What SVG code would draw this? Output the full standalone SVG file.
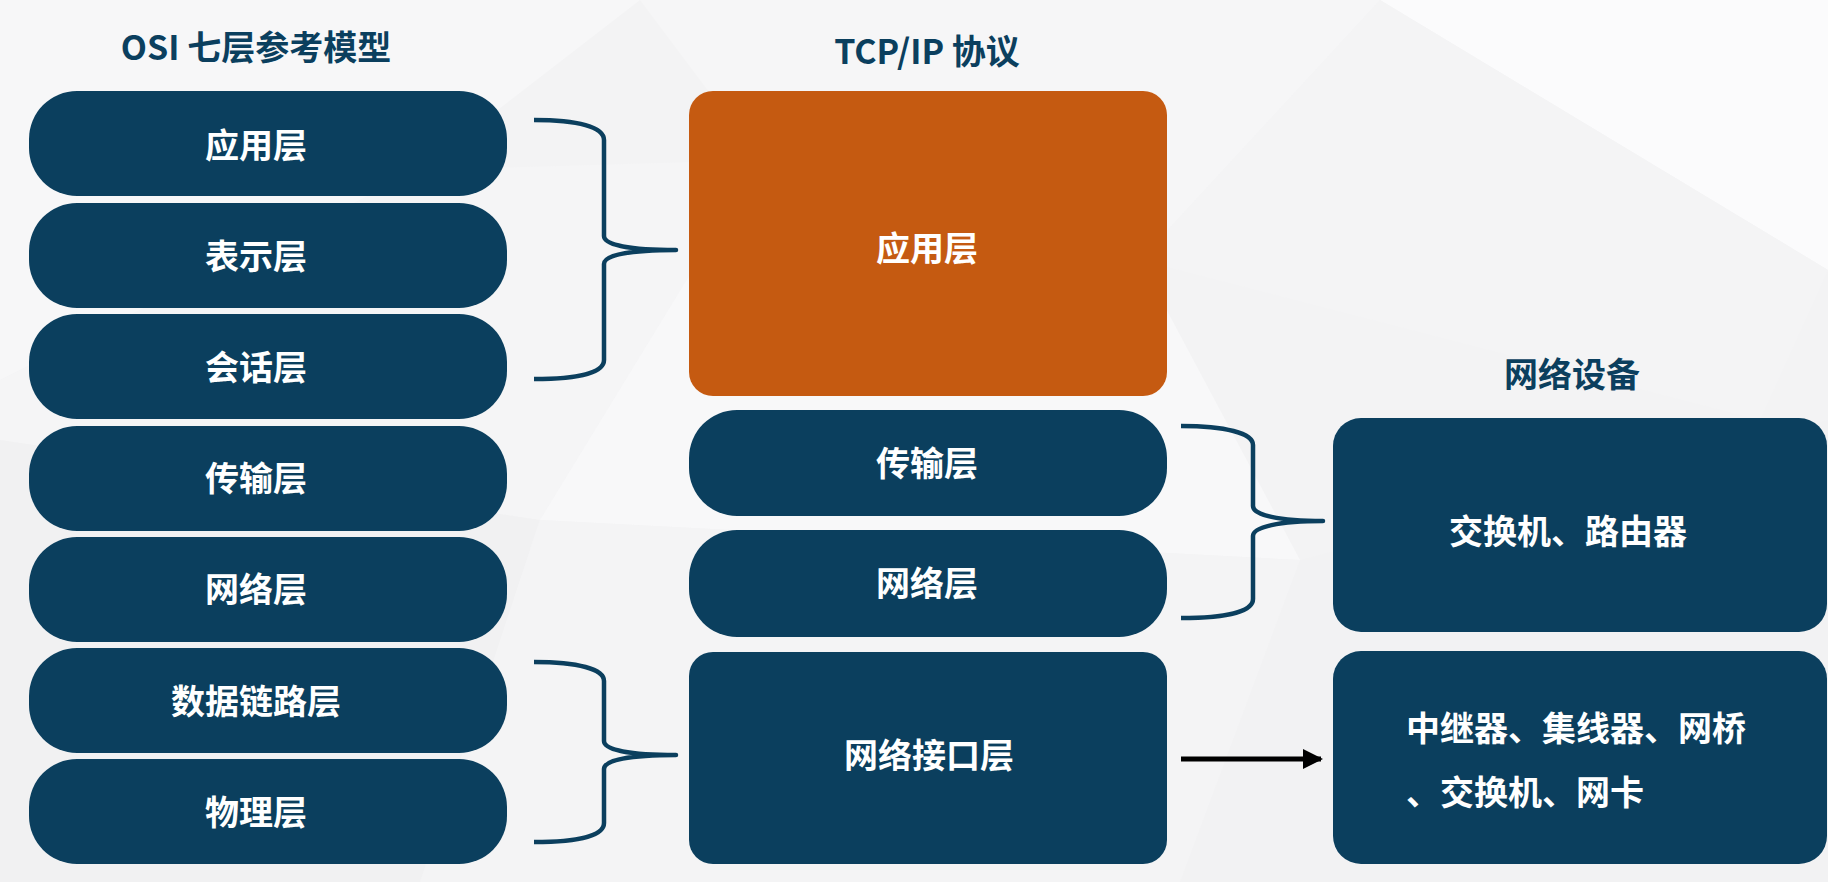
<svg xmlns="http://www.w3.org/2000/svg" width="1828" height="882" viewBox="0 0 1828 882">
<defs>
<style>
.box{fill:#0b3f5e}
.org{fill:#c55a11}
.lbl{font-family:"Noto Sans CJK SC","Noto Sans",sans-serif;font-weight:bold;font-size:34px;fill:#ffffff;text-anchor:middle;dominant-baseline:central}
.lbl2{font-family:"Noto Sans CJK SC","Noto Sans",sans-serif;font-weight:bold;font-size:34px;fill:#ffffff}
.ttl{font-family:"Noto Sans CJK SC","Noto Sans",sans-serif;font-weight:bold;font-size:34px;fill:#0b3f5e;text-anchor:middle;dominant-baseline:central}
.brace{fill:none;stroke:#0b3f5e;stroke-width:4.5;stroke-linecap:butt;stroke-linejoin:round}
</style>
<marker id="arr" viewBox="0 0 10 10" refX="9" refY="5" markerWidth="4" markerHeight="4" orient="auto" markerUnits="strokeWidth">
<path d="M0,0 L10,5 L0,10 Z" fill="#000000"/>
</marker>
</defs>
<g id="background">
<rect x="0" y="0" width="1828" height="882" fill="#f3f3f4"/>
<polygon points="0,0 640,0 420,170 0,380" fill="#f7f7f8"/>
<polygon points="640,0 1380,0 1140,260 760,160" fill="#f6f6f7"/>
<polygon points="1380,0 1828,0 1828,270" fill="#fbfbfc"/>
<polygon points="1380,0 1828,270 1760,420 1140,260" fill="#f4f4f5"/>
<polygon points="0,380 420,170 760,160 540,520 0,440" fill="#f5f5f6"/>
<polygon points="760,160 1140,260 1300,560 540,520" fill="#f8f8f9"/>
<polygon points="0,440 540,520 420,882 0,882" fill="#f1f1f2"/>
<polygon points="540,520 1300,560 1180,882 420,882" fill="#f4f4f5"/>
<polygon points="1300,560 1828,420 1828,882 1180,882" fill="#f2f2f3"/>
</g>
<g id="titles">
<text class="ttl" x="256" y="45">OSI 七层参考模型</text>
<text class="ttl" x="927" y="49">TCP/IP 协议</text>
<text class="ttl" x="1572" y="372">网络设备</text>
</g>
<g id="osi-app"><rect class="box" x="29" y="91" width="478" height="105" rx="48" ry="48"/><text class="lbl" x="256" y="143">应用层</text></g>
<g id="osi-pres"><rect class="box" x="29" y="203" width="478" height="105" rx="48" ry="48"/><text class="lbl" x="256" y="254">表示层</text></g>
<g id="osi-sess"><rect class="box" x="29" y="314" width="478" height="105" rx="48" ry="48"/><text class="lbl" x="256" y="365">会话层</text></g>
<g id="osi-trans"><rect class="box" x="29" y="426" width="478" height="105" rx="48" ry="48"/><text class="lbl" x="256" y="476">传输层</text></g>
<g id="osi-net"><rect class="box" x="29" y="537" width="478" height="105" rx="48" ry="48"/><text class="lbl" x="256" y="587">网络层</text></g>
<g id="osi-link"><rect class="box" x="29" y="648" width="478" height="105" rx="48" ry="48"/><text class="lbl" x="256" y="699">数据链路层</text></g>
<g id="osi-phy"><rect class="box" x="29" y="759" width="478" height="105" rx="48" ry="48"/><text class="lbl" x="256" y="810">物理层</text></g>
<g id="tcp-app"><rect class="org" x="689" y="91" width="478" height="305" rx="24" ry="24"/><text class="lbl" x="927" y="246">应用层</text></g>
<g id="tcp-trans"><rect class="box" x="689" y="410" width="478" height="106" rx="48" ry="48"/><text class="lbl" x="927" y="461">传输层</text></g>
<g id="tcp-net"><rect class="box" x="689" y="530" width="478" height="107" rx="48" ry="48"/><text class="lbl" x="927" y="581">网络层</text></g>
<g id="tcp-if"><rect class="box" x="689" y="652" width="478" height="212" rx="24" ry="24"/><text class="lbl" x="929" y="753">网络接口层</text></g>
<g id="dev-router"><rect class="box" x="1333" y="418" width="494" height="214" rx="28" ry="28"/><text class="lbl" x="1568" y="529">交换机、路由器</text></g>
<g id="dev-hub"><rect class="box" x="1333" y="651" width="494" height="213" rx="28" ry="28"/><text class="lbl2" x="1406" y="741">中继器、集线器、网桥</text><text class="lbl2" x="1406" y="805">、交换机、网卡</text></g>
<g id="connectors">
<path class="brace" d="M534,120 C578,120 604,127 604,140 L604,236 C604,245 630,250 676,250 C630,250 604,255 604,264 L604,360 C604,373 578,379 534,379"/>
<path class="brace" d="M534,662 C578,662 604,669 604,681 L604,741 C604,750 630,755 676,755 C630,755 604,760 604,769 L604,823 C604,836 578,842 534,842"/>
<path class="brace" d="M1181,426 C1225,426 1253,433 1253,445 L1253,506 C1253,515 1279,521 1323,521 C1279,521 1253,527 1253,536 L1253,599 C1253,612 1225,618 1181,618"/>
<line x1="1181" y1="759" x2="1321" y2="759" stroke="#000000" stroke-width="5" marker-end="url(#arr)"/>
</g>
</svg>
